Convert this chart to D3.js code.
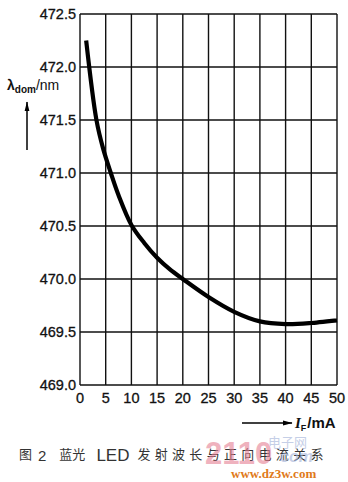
<!DOCTYPE html>
<html>
<head>
<meta charset="utf-8">
<script src="https://cdn.jsdelivr.net/npm/d3@7"></script>
<style>
  body { margin: 0; background: #fff; }
  svg { display: block; font-family: "Liberation Sans", Arial, sans-serif; }
</style>
</head>
<body>
<div id="chart"></div>
<script>
// data: forward current (mA) vs dominant wavelength (nm)
const currentMA = [1.2, 3.2, 4.5, 6, 7.5, 10, 12.5, 15, 17.5, 20, 25, 30, 35, 40, 45, 50];
const wavelength = [472.25, 471.5, 471.23, 471.0, 470.79, 470.51, 470.34, 470.2, 470.09, 470.0, 469.83, 469.69, 469.6, 469.575, 469.585, 469.61];
const xTicks = [0, 5, 10, 15, 20, 25, 30, 35, 40, 45, 50];
const yTicks = [469.0, 469.5, 470.0, 470.5, 471.0, 471.5, 472.0, 472.5];

const width = 348, height = 482;
const margin = { top: 14, right: 11, bottom: 97, left: 80 };

const svg = d3.select("#chart").append("svg")
    .attr("width", width)
    .attr("height", height);

const x = d3.scaleLinear().domain([0, 50]).range([margin.left, width - margin.right]);
const y = d3.scaleLinear().domain([469, 472.5]).range([height - margin.bottom, margin.top]);

// grid
const grid = svg.append("g").attr("stroke", "#111").attr("stroke-width", 1.4);
grid.selectAll(".vx").data(xTicks).enter().append("line")
    .attr("x1", d => x(d)).attr("x2", d => x(d))
    .attr("y1", y(469)).attr("y2", y(472.5));
grid.selectAll(".hy").data(yTicks).enter().append("line")
    .attr("x1", x(0)).attr("x2", x(50))
    .attr("y1", d => y(d)).attr("y2", d => y(d));

// tick labels
svg.append("g").selectAll("text").data(xTicks).enter().append("text")
    .attr("x", d => x(d)).attr("y", y(469) + 18)
    .attr("text-anchor", "middle")
    .style("font-size", "14.5px").style("fill", "#111")
    .style("stroke", "#111").style("stroke-width", 0.3)
    .text(d => d);
svg.append("g").selectAll("text").data(yTicks).enter().append("text")
    .attr("x", x(0) - 4).attr("y", d => y(d) + 5)
    .attr("text-anchor", "end")
    .style("font-size", "14.5px").style("fill", "#111")
    .style("stroke", "#111").style("stroke-width", 0.3)
    .text(d => d.toFixed(1));

// curve
const line = d3.line()
    .x((d, i) => x(currentMA[i]))
    .y(d => y(d))
    .curve(d3.curveCatmullRom.alpha(0.5));
svg.append("path")
    .datum(wavelength)
    .attr("fill", "none")
    .attr("stroke", "#000")
    .attr("stroke-width", 4.2)
    .attr("d", line);

// arrowhead
svg.append("defs").append("marker")
    .attr("id", "arr").attr("viewBox", "0 0 16 10")
    .attr("refX", 15).attr("refY", 5)
    .attr("markerWidth", 16).attr("markerHeight", 6)
    .attr("markerUnits", "userSpaceOnUse")
    .attr("orient", "auto")
    .append("path").attr("d", "M0,1 L16,5 L0,9 z").attr("fill", "#000");

// y label
const yl = svg.append("text").attr("x", 7).attr("y", 90)
    .style("font-size", "14px").style("fill", "#111");
yl.append("tspan").style("font-weight", "bold").text("λ");
yl.append("tspan").attr("dy", 3).style("font-size", "10px").style("font-weight", "bold").text("dom");
yl.append("tspan").attr("dy", -3).text("/nm");
svg.append("line")
    .attr("x1", 27).attr("x2", 27).attr("y1", 150).attr("y2", 102)
    .attr("stroke", "#000").attr("stroke-width", 1.5)
    .attr("marker-end", "url(#arr)");

// x label
svg.append("line")
    .attr("x1", 242).attr("x2", 292).attr("y1", 423).attr("y2", 423)
    .attr("stroke", "#000").attr("stroke-width", 1.5)
    .attr("marker-end", "url(#arr)");
const xl = svg.append("text").attr("x", 295).attr("y", 428)
    .style("font-size", "15px").style("fill", "#111").style("font-weight", "bold");
xl.append("tspan").style("font-style", "italic").style("font-family", "'Liberation Serif', serif").text("I");
xl.append("tspan").attr("dy", 3).style("font-size", "9px").text("F");
xl.append("tspan").attr("dy", -3).attr("dx", 1).text("/mA");

// caption
const cap = svg.append("text").attr("x", 19).attr("y", 459)
    .style("font-family", "'Noto Sans CJK SC', sans-serif")
    .style("font-size", "13px").style("fill", "#333");
cap.append("tspan").text("图");
cap.append("tspan").attr("dx", 6).attr("dy", 2).style("font-family", "'Liberation Sans', sans-serif").style("font-size", "15px").text("2");
cap.append("tspan").attr("dx", 13).attr("dy", -2).text("蓝光");
cap.append("tspan").attr("dx", 11).attr("dy", 2).style("font-family", "'Liberation Sans', sans-serif").style("font-size", "17px").text("LED");
cap.append("tspan").attr("dx", 8).attr("dy", -2).style("letter-spacing", "4.3px").text("发射波长与正向电流关系");

// watermark (site stamp printed over the caption)
const wm = svg.append("g").style("opacity", 0.6);
wm.append("text").attr("x", 205).attr("y", 464)
    .style("font-size", "31px").style("font-weight", "bold")
    .style("fill", "#e57f93").text("2110");
wm.append("text").attr("x", 268).attr("y", 447)
    .style("font-size", "13px").style("font-family", "'Noto Sans CJK SC', sans-serif")
    .style("fill", "#9fb0d8").text("电子网");
wm.append("text").attr("x", 280).attr("y", 462)
    .style("font-size", "16px").style("font-style", "italic").style("font-weight", "bold")
    .style("fill", "#9fb0d8").text("com");
svg.append("text").attr("x", 231).attr("y", 478)
    .style("font-size", "13px").style("font-weight", "bold").style("font-family", "'Liberation Serif', serif")
    .style("fill", "#e07a1a")
    .text("www.dz3w.com");
</script>
</body>
</html>
